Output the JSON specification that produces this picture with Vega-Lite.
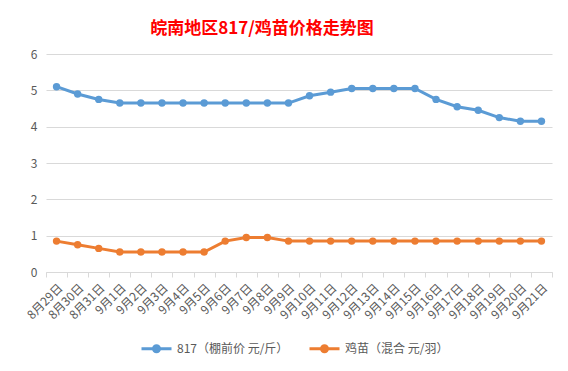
{
  "$schema": "https://vega.github.io/schema/vega-lite/v6.json",
  "width": 506,
  "height": 218,
  "autosize": {"type": "none"},
  "padding": {"left": 46, "top": 54, "right": 16, "bottom": 99},
  "background": "white",
  "config": {"view": {"stroke": null}, "font": "Noto Sans CJK SC"},
  "title": {"text": "皖南地区817/鸡苗价格走势图", "color": "#ff0000", "fontSize": 17, "font": "Noto Sans CJK SC", "fontWeight": "bold", "anchor": "middle", "offset": 10, "dx": -37},
  "data": {"values": [
    {"date": "8月29日", "series": "817（棚前价 元/斤）", "value": 5.1},
    {"date": "8月30日", "series": "817（棚前价 元/斤）", "value": 4.9},
    {"date": "8月31日", "series": "817（棚前价 元/斤）", "value": 4.75},
    {"date": "9月1日", "series": "817（棚前价 元/斤）", "value": 4.65},
    {"date": "9月2日", "series": "817（棚前价 元/斤）", "value": 4.65},
    {"date": "9月3日", "series": "817（棚前价 元/斤）", "value": 4.65},
    {"date": "9月4日", "series": "817（棚前价 元/斤）", "value": 4.65},
    {"date": "9月5日", "series": "817（棚前价 元/斤）", "value": 4.65},
    {"date": "9月6日", "series": "817（棚前价 元/斤）", "value": 4.65},
    {"date": "9月7日", "series": "817（棚前价 元/斤）", "value": 4.65},
    {"date": "9月8日", "series": "817（棚前价 元/斤）", "value": 4.65},
    {"date": "9月9日", "series": "817（棚前价 元/斤）", "value": 4.65},
    {"date": "9月10日", "series": "817（棚前价 元/斤）", "value": 4.85},
    {"date": "9月11日", "series": "817（棚前价 元/斤）", "value": 4.95},
    {"date": "9月12日", "series": "817（棚前价 元/斤）", "value": 5.05},
    {"date": "9月13日", "series": "817（棚前价 元/斤）", "value": 5.05},
    {"date": "9月14日", "series": "817（棚前价 元/斤）", "value": 5.05},
    {"date": "9月15日", "series": "817（棚前价 元/斤）", "value": 5.05},
    {"date": "9月16日", "series": "817（棚前价 元/斤）", "value": 4.75},
    {"date": "9月17日", "series": "817（棚前价 元/斤）", "value": 4.55},
    {"date": "9月18日", "series": "817（棚前价 元/斤）", "value": 4.45},
    {"date": "9月19日", "series": "817（棚前价 元/斤）", "value": 4.25},
    {"date": "9月20日", "series": "817（棚前价 元/斤）", "value": 4.15},
    {"date": "9月21日", "series": "817（棚前价 元/斤）", "value": 4.15},
    {"date": "8月29日", "series": "鸡苗（混合 元/羽）", "value": 0.85},
    {"date": "8月30日", "series": "鸡苗（混合 元/羽）", "value": 0.75},
    {"date": "8月31日", "series": "鸡苗（混合 元/羽）", "value": 0.65},
    {"date": "9月1日", "series": "鸡苗（混合 元/羽）", "value": 0.55},
    {"date": "9月2日", "series": "鸡苗（混合 元/羽）", "value": 0.55},
    {"date": "9月3日", "series": "鸡苗（混合 元/羽）", "value": 0.55},
    {"date": "9月4日", "series": "鸡苗（混合 元/羽）", "value": 0.55},
    {"date": "9月5日", "series": "鸡苗（混合 元/羽）", "value": 0.55},
    {"date": "9月6日", "series": "鸡苗（混合 元/羽）", "value": 0.85},
    {"date": "9月7日", "series": "鸡苗（混合 元/羽）", "value": 0.95},
    {"date": "9月8日", "series": "鸡苗（混合 元/羽）", "value": 0.95},
    {"date": "9月9日", "series": "鸡苗（混合 元/羽）", "value": 0.85},
    {"date": "9月10日", "series": "鸡苗（混合 元/羽）", "value": 0.85},
    {"date": "9月11日", "series": "鸡苗（混合 元/羽）", "value": 0.85},
    {"date": "9月12日", "series": "鸡苗（混合 元/羽）", "value": 0.85},
    {"date": "9月13日", "series": "鸡苗（混合 元/羽）", "value": 0.85},
    {"date": "9月14日", "series": "鸡苗（混合 元/羽）", "value": 0.85},
    {"date": "9月15日", "series": "鸡苗（混合 元/羽）", "value": 0.85},
    {"date": "9月16日", "series": "鸡苗（混合 元/羽）", "value": 0.85},
    {"date": "9月17日", "series": "鸡苗（混合 元/羽）", "value": 0.85},
    {"date": "9月18日", "series": "鸡苗（混合 元/羽）", "value": 0.85},
    {"date": "9月19日", "series": "鸡苗（混合 元/羽）", "value": 0.85},
    {"date": "9月20日", "series": "鸡苗（混合 元/羽）", "value": 0.85},
    {"date": "9月21日", "series": "鸡苗（混合 元/羽）", "value": 0.85}
  ]},
  "mark": {"type": "line", "strokeWidth": 3, "point": {"size": 55, "filled": true, "opacity": 1}},
  "encoding": {
    "x": {"field": "date", "type": "ordinal", "sort": null,
      "scale": {"type": "band", "paddingInner": 0, "paddingOuter": 0},
      "axis": {"title": null, "labelAngle": -45, "tickBand": "extent", "domainColor": "#d9d9d9", "tickColor": "#d9d9d9", "tickSize": 5, "labelColor": "#595959", "labelFontSize": 12, "labelPadding": 5, "grid": false}},
    "y": {"field": "value", "type": "quantitative", "scale": {"domain": [0, 6]},
      "axis": {"title": null, "values": [0, 1, 2, 3, 4, 5, 6], "domain": false, "ticks": false, "gridColor": "#d9d9d9", "labelColor": "#595959", "labelFontSize": 12, "labelPadding": 9}},
    "color": {"field": "series", "type": "nominal",
      "scale": {"domain": ["817（棚前价 元/斤）", "鸡苗（混合 元/羽）"], "range": ["#5b9bd5", "#ed7d31"]},
      "legend": {"orient": "none", "legendX": 94, "legendY": 278, "direction": "horizontal", "title": null,
        "symbolType": "M-1,0L1,0M-0.2,0A0.2,0.2,0,1,0,0.2,0A0.2,0.2,0,1,0,-0.2,0Z",
        "symbolSize": 900, "symbolStrokeWidth": 3, "labelFontSize": 12, "labelColor": "#595959", "columnPadding": 14, "labelOffset": 4,
        "encode": {"symbols": {"update": {"fill": {"scale": "color", "field": "value"}}}}}}
  }
}
